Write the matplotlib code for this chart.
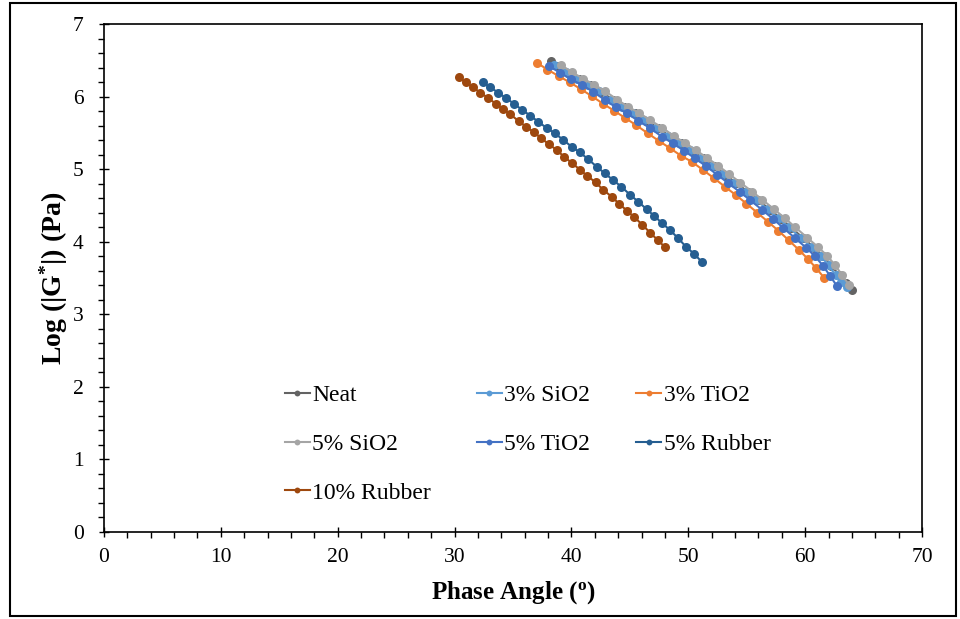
import matplotlib
matplotlib.use("Agg")
import matplotlib.pyplot as plt
from matplotlib.patches import Rectangle
from matplotlib.ticker import MultipleLocator

plt.rcParams['font.family'] = ['Liberation Serif', 'DejaVu Serif']
plt.rcParams['mathtext.fontset'] = 'custom'
plt.rcParams['mathtext.rm'] = 'Liberation Serif'
plt.rcParams['mathtext.bf'] = 'Liberation Serif:bold'
plt.rcParams['mathtext.default'] = 'bf'

# Phase angle (deg) and Log|G*| (Pa) for each blend
neat_x = [38.22, 38.78, 39.72, 40.66, 41.60, 42.55, 43.57, 44.51, 45.45, 46.40,
          47.42, 48.45, 49.39, 50.33, 51.27, 52.21, 53.16, 54.10, 55.12, 55.98,
          57.01, 57.95, 58.80, 59.83, 60.77, 61.54, 62.25, 62.90, 63.48, 63.98]
neat_y = [6.490, 6.421, 6.329, 6.238, 6.160, 6.067, 5.953, 5.852, 5.770, 5.668,
          5.567, 5.447, 5.356, 5.254, 5.149, 5.043, 4.925, 4.810, 4.685, 4.575,
          4.440, 4.315, 4.195, 4.050, 3.920, 3.800, 3.670, 3.540, 3.430, 3.340]

si3_x = [38.55, 39.50, 40.44, 41.38, 42.33, 43.35, 44.29, 45.23, 46.18, 47.20,
         48.23, 49.17, 50.11, 51.05, 51.99, 52.94, 53.88, 54.90, 55.76, 56.79,
         57.73, 58.58, 59.61, 60.55, 61.32, 62.01, 62.61, 63.10, 63.55]
si3_y = [6.430, 6.335, 6.245, 6.165, 6.072, 5.958, 5.857, 5.775, 5.673, 5.572,
         5.452, 5.361, 5.259, 5.154, 5.048, 4.930, 4.815, 4.690, 4.580, 4.445,
         4.320, 4.200, 4.055, 3.925, 3.805, 3.675, 3.535, 3.450, 3.380]

ti3_x = [37.03, 37.95, 38.90, 39.85, 40.78, 41.75, 42.72, 43.65, 44.60, 45.55,
         46.52, 47.48, 48.42, 49.38, 50.32, 51.25, 52.20, 53.12, 54.05, 54.98,
         55.90, 56.82, 57.72, 58.60, 59.45, 60.22, 60.95, 61.64]
ti3_y = [6.467, 6.372, 6.283, 6.197, 6.105, 6.005, 5.900, 5.805, 5.705, 5.605,
         5.495, 5.390, 5.290, 5.185, 5.100, 4.990, 4.875, 4.760, 4.645, 4.525,
         4.400, 4.275, 4.150, 4.020, 3.890, 3.765, 3.635, 3.500]

si5_x = [39.15, 40.07, 41.01, 41.95, 42.90, 43.92, 44.86, 45.80, 46.75, 47.77,
         48.80, 49.74, 50.68, 51.62, 52.56, 53.51, 54.45, 55.47, 56.33, 57.36,
         58.30, 59.15, 60.18, 61.12, 61.89, 62.58, 63.18, 63.78]
si5_y = [6.430, 6.335, 6.245, 6.165, 6.072, 5.958, 5.857, 5.775, 5.673, 5.572,
         5.452, 5.361, 5.259, 5.154, 5.048, 4.930, 4.815, 4.690, 4.580, 4.445,
         4.320, 4.200, 4.055, 3.925, 3.805, 3.675, 3.535, 3.400]

ti5_x = [38.08, 39.02, 39.96, 40.90, 41.85, 42.87, 43.81, 44.75, 45.70, 46.72,
         47.75, 48.69, 49.63, 50.57, 51.51, 52.46, 53.40, 54.42, 55.28, 56.31,
         57.25, 58.10, 59.13, 60.07, 60.84, 61.53, 62.13, 62.72]
ti5_y = [6.421, 6.329, 6.238, 6.160, 6.067, 5.953, 5.852, 5.770, 5.668, 5.567,
         5.447, 5.356, 5.254, 5.149, 5.043, 4.925, 4.810, 4.685, 4.575, 4.440,
         4.315, 4.195, 4.050, 3.920, 3.800, 3.670, 3.530, 3.390]

rub5_x = [32.41, 33.06, 33.74, 34.43, 35.11, 35.80, 36.48, 37.16, 37.88, 38.59,
          39.30, 40.02, 40.71, 41.44, 42.16, 42.85, 43.56, 44.27, 45.04, 45.72,
          46.44, 47.09, 47.77, 48.43, 49.14, 49.80, 50.51, 51.17]
rub5_y = [6.197, 6.128, 6.053, 5.976, 5.898, 5.815, 5.737, 5.654, 5.567, 5.494,
          5.402, 5.309, 5.232, 5.136, 5.034, 4.943, 4.850, 4.758, 4.644, 4.551,
          4.447, 4.354, 4.254, 4.161, 4.047, 3.931, 3.831, 3.720]

rub10_x = [30.38, 30.95, 31.58, 32.20, 32.83, 33.52, 34.14, 34.77, 35.48, 36.11,
           36.80, 37.42, 38.08, 38.74, 39.36, 40.08, 40.76, 41.36, 42.07, 42.73,
           43.44, 44.10, 44.75, 45.38, 46.07, 46.72, 47.38, 48.01]
rub10_y = [6.265, 6.196, 6.127, 6.054, 5.985, 5.902, 5.824, 5.755, 5.663, 5.585,
           5.507, 5.425, 5.342, 5.264, 5.172, 5.080, 4.988, 4.906, 4.818, 4.713,
           4.621, 4.520, 4.428, 4.336, 4.235, 4.125, 4.024, 3.923]

series = [
    ('Neat', neat_x, neat_y, '#636363'),
    ('3% SiO2', si3_x, si3_y, '#5B9BD5'),
    ('3% TiO2', ti3_x, ti3_y, '#ED7D31'),
    ('5% SiO2', si5_x, si5_y, '#A5A5A5'),
    ('5% TiO2', ti5_x, ti5_y, '#4472C4'),
    ('5% Rubber', rub5_x, rub5_y, '#255E91'),
    ('10% Rubber', rub10_x, rub10_y, '#9E480E'),
]

fig = plt.figure(figsize=(9.6, 6.19), dpi=100)
ax = fig.add_axes([104 / 960, 87 / 619, 818 / 960, 508 / 619])

lines = {}
for name, xs, ys, col in series:
    ln, = ax.plot(xs, ys, color=col, lw=1.5, marker='o', ms=6.5,
                  markeredgewidth=0, label=name)
    lines[name] = ln

ax.set_xlim(0, 70)
ax.set_ylim(0, 7)
ax.xaxis.set_major_locator(MultipleLocator(10))
ax.xaxis.set_minor_locator(MultipleLocator(2))
ax.yaxis.set_major_locator(MultipleLocator(1))
ax.yaxis.set_minor_locator(MultipleLocator(0.2))
ax.tick_params(which='major', direction='inout', length=7, width=1, labelsize=15.5)
ax.tick_params(axis='x', which='major', pad=8)
ax.tick_params(axis='y', which='major', pad=11)
ax.tick_params(which='minor', direction='out', length=4, width=1)
for side in ['top', 'right', 'left', 'bottom']:
    ax.spines[side].set_linewidth(1.2)

ax.set_xlabel('Phase Angle ($^{o}$)', fontsize=18, fontweight='bold', labelpad=9)
ax.set_ylabel('Log (|G$^{*}$|) (Pa)', fontsize=20, fontweight='bold', labelpad=2)

# legend filled column by column, so reorder to read row by row
order = ['Neat', '5% SiO2', '10% Rubber', '3% SiO2', '5% TiO2', '3% TiO2', '5% Rubber']
ax.legend([lines[n] for n in order], order, ncol=3, frameon=False,
          loc='upper left', bbox_to_anchor=(0.221, 0.29), fontsize=17,
          handlelength=1.06, handletextpad=0.1, columnspacing=1.95,
          labelspacing=1.15, borderpad=0, borderaxespad=0, markerscale=0.65)

# outer frame around the whole chart
fig.patches.append(Rectangle((10 / 960, 3 / 619), 946 / 960, 613 / 619,
                             transform=fig.transFigure, fill=False,
                             edgecolor='black', linewidth=1.5))

fig.savefig('out.png', dpi=100)
